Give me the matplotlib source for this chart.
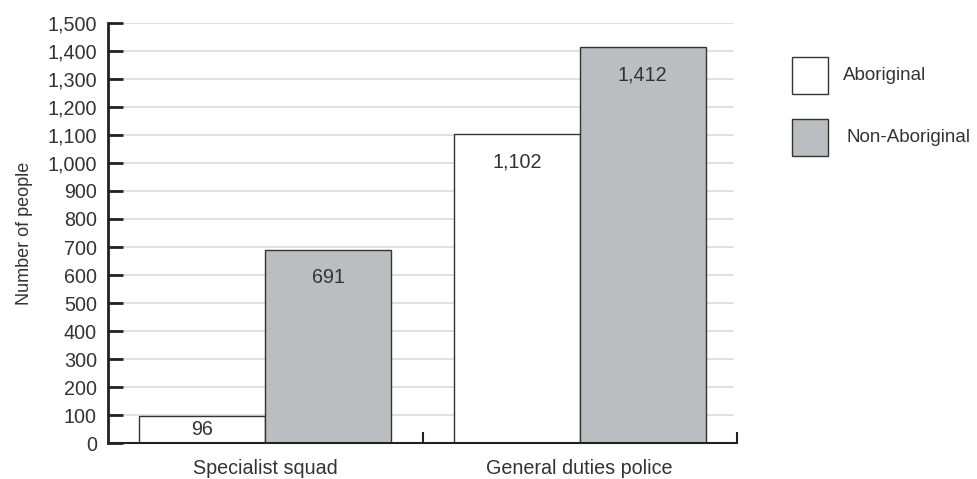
import matplotlib.pyplot as plt
from matplotlib.patches import Rectangle
from matplotlib.ticker import FuncFormatter, FixedLocator

categories = ["Specialist squad", "General duties police"]
series_names = ["Aboriginal", "Non-Aboriginal"]
aboriginal = [96, 1102]
non_aboriginal = [691, 1412]
y_ticks = list(range(0, 1501, 100))

colors = ["#ffffff", "#bcbdc0"]
edge = "#333333"
text_color = "#333333"
fs = 14.2
plt.rcParams['font.family'] = ['Liberation Sans', 'DejaVu Sans']

fig = plt.figure(figsize=(9.78, 4.79), dpi=100)
ax = fig.add_axes([108 / 978, 1 - 443.3 / 479, 629 / 978, (443.3 - 22.7) / 479])

width = 0.4
x = list(range(len(categories)))
for i, (vals, col) in enumerate(zip([aboriginal, non_aboriginal], colors)):
    offs = -width / 2 if i == 0 else width / 2
    xs = [xi + offs for xi in x]
    ax.bar(xs, vals, width=width, color=col, edgecolor=edge, linewidth=1, zorder=3)
    for xx, v in zip(xs, vals):
        ty = max(v - 100, v / 2)
        ax.text(xx, ty, f"{v:,}", ha="center", va="center", fontsize=fs, color=text_color, zorder=4)

ax.set_xlim(-0.5, 1.5)
ax.set_ylim(0, 1500)
ax.set_yticks(y_ticks)
ax.yaxis.set_major_formatter(FuncFormatter(lambda v, p: f"{int(v):,}"))
ax.tick_params(axis="y", direction="in", length=11, width=2, color="#222222",
               labelsize=fs, labelcolor=text_color, pad=8)
ax.set_xticks(x)
ax.set_xticklabels(categories)
ax.tick_params(axis="x", which="major", length=0, labelsize=fs, labelcolor=text_color, pad=11)
ax.xaxis.set_minor_locator(FixedLocator([0.5, 1.5]))
ax.tick_params(axis="x", which="minor", direction="in", length=8, width=1.5, color="#222222")

for yv in y_ticks[1:]:
    ax.plot([-0.5, 1.487], [yv, yv], color="#dcdcdc", linewidth=1.2, zorder=1)

for s in ["top", "right"]:
    ax.spines[s].set_visible(False)
ax.spines["left"].set_linewidth(2)
ax.spines["left"].set_color("#222222")
ax.spines["bottom"].set_linewidth(1.5)
ax.spines["bottom"].set_color("#222222")
ax.spines["bottom"].set_zorder(5)

ax.set_ylabel("Number of people", fontsize=13, color=text_color, labelpad=10)

# legend
box_tops = [56.7, 119]
text_x = [843, 847]
for name, col, top, tx in zip(series_names, colors, box_tops, text_x):
    fig.patches.append(Rectangle((792 / 978, 1 - (top + 37) / 479), 36 / 978, 37 / 479,
                                 transform=fig.transFigure, facecolor=col,
                                 edgecolor=edge, linewidth=1))
    fig.text(tx / 978, 1 - (top + 18.5) / 479, name, ha="left", va="center",
             fontsize=13.5, color=text_color)

fig.savefig("out.png", dpi=100)
